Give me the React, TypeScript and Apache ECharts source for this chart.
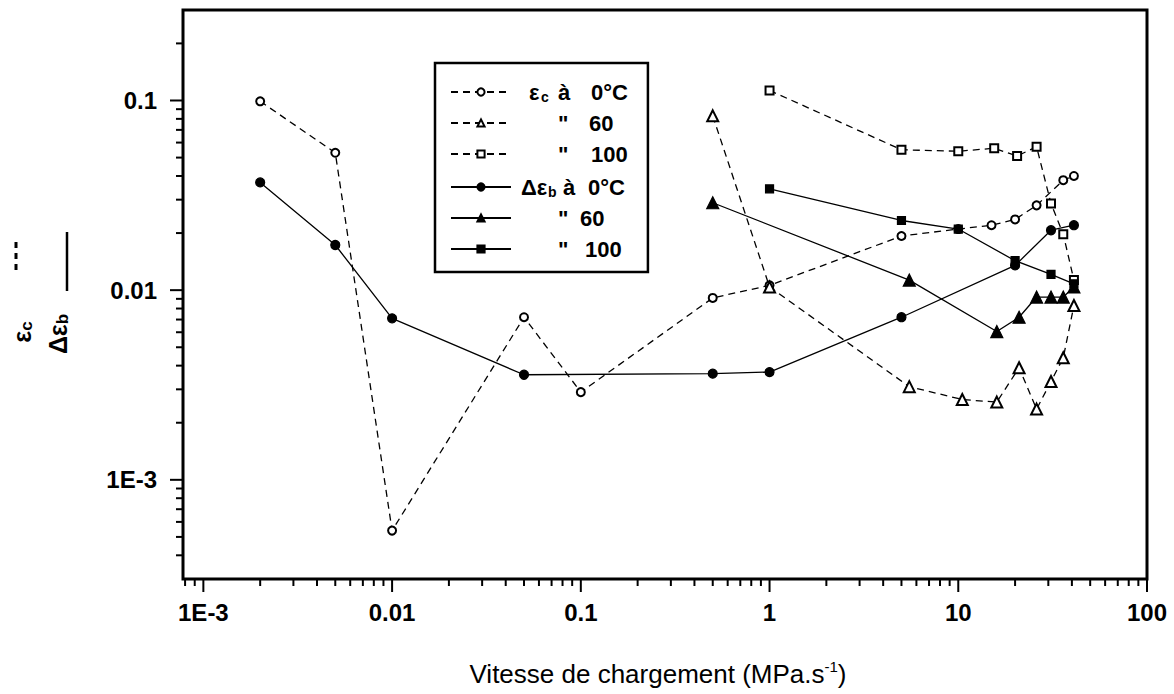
import React, { useEffect, useRef } from "react";
import * as echarts from "echarts";

// ---- axis ranges & tick labels ----
const X_MIN = 7.8e-4;
const X_MAX = 100;
const Y_MIN = 3e-4;
const Y_MAX = 0.3;
const DECADE_LABELS: Record<string, string> = {
  "-3": "1E-3",
  "-2": "0.01",
  "-1": "0.1",
  "0": "1",
  "1": "10",
  "2": "100",
};
const X_MAJOR = [1e-3, 1e-2, 0.1, 1, 10, 100];
const X_MINOR = [
  8e-4, 9e-4,
  2e-3, 3e-3, 4e-3, 5e-3, 6e-3, 7e-3, 8e-3, 9e-3,
  0.02, 0.03, 0.04, 0.05, 0.06, 0.07, 0.08, 0.09,
  0.2, 0.3, 0.4, 0.5, 0.6, 0.7, 0.8, 0.9,
  2, 3, 4, 5, 6, 7, 8, 9,
  20, 30, 40, 50, 60, 70, 80, 90,
];
const Y_MAJOR = [1e-3, 1e-2, 0.1];
const Y_MINOR = [
  4e-4, 5e-4, 6e-4, 7e-4, 8e-4, 9e-4,
  2e-3, 3e-3, 4e-3, 5e-3, 6e-3, 7e-3, 8e-3, 9e-3,
  0.02, 0.03, 0.04, 0.05, 0.06, 0.07, 0.08, 0.09,
  0.2,
];

// ---- series data ----
// εc à 0°C
const EC0_X = [0.002, 0.005, 0.01, 0.05, 0.1, 0.5, 1, 5, 10, 15, 20, 26, 36, 41];
const EC0_Y = [0.099, 0.053, 0.00054, 0.0072, 0.0029, 0.0091, 0.0106, 0.0193, 0.021, 0.022, 0.0236, 0.028, 0.038, 0.04];
// εc à 60°C
const EC60_X = [0.5, 1, 5.5, 10.5, 16, 21, 26, 31, 36, 41];
const EC60_Y = [0.083, 0.0104, 0.0031, 0.00265, 0.00257, 0.0039, 0.00236, 0.0033, 0.0044, 0.0083];
// εc à 100°C
const EC100_X = [1, 5, 10, 15.5, 20.5, 26, 31, 36, 41];
const EC100_Y = [0.113, 0.055, 0.054, 0.056, 0.051, 0.057, 0.0286, 0.0197, 0.0113];
// Δεb à 0°C
const DEB0_X = [0.002, 0.005, 0.01, 0.05, 0.5, 1, 5, 20, 31, 41];
const DEB0_Y = [0.037, 0.0173, 0.0071, 0.00358, 0.00363, 0.0037, 0.0072, 0.0135, 0.0207, 0.022];
// Δεb à 60°C
const DEB60_X = [0.5, 5.5, 16, 21, 26, 31, 36, 41];
const DEB60_Y = [0.0289, 0.0113, 0.00605, 0.0072, 0.0092, 0.0092, 0.0092, 0.0104];
// Δεb à 100°C
const DEB100_X = [1, 5, 10, 20, 31, 41];
const DEB100_Y = [0.0342, 0.0233, 0.021, 0.0143, 0.0121, 0.0108];

const SERIES_NAMES = ["ec0", "ec60", "ec100", "deb0", "deb60", "deb100"];
const LEGEND_LABELS: Record<string, string> = {
  ec0: "{p13|}{g|ε}{s|c}{q|à}{v|0°C}",
  ec60: "{p42|}{q4|\"}{v|60}",
  ec100: "{p42|}{q|\"}{v|100}",
  deb0: "{p5|}{g2|Δε}{s2|b}{q2|à}{v|0°C}",
  deb60: "{p42|}{q3|\"}{v|60}",
  deb100: "{p42|}{q5|\"}{v|100}",
};

const FONT = "'Liberation Sans', Arial, sans-serif";

const zip = (xs: number[], ys: number[]) => xs.map((x, i) => [x, ys[i]]);

const decadeLabel = (v: number) => {
  const lg = Math.log10(v);
  const r = Math.round(lg);
  if (Math.abs(lg - r) > 0.01) return "";
  return DECADE_LABELS[String(r)] ?? "";
};

export default function App() {
  const ref = useRef<HTMLDivElement>(null);

  useEffect(() => {
    if (!ref.current) return;
    const chart = echarts.init(ref.current, undefined, { renderer: "svg" });

    const dashed = { color: "#000", width: 1.3, type: [7, 5] as any };
    const solid = { color: "#000", width: 1.3, type: "solid" as any };

    const mk = (name: string, data: number[][], symbol: string, size: number, line: any) => ({
      name,
      type: "line",
      data,
      symbol,
      symbolSize: size,
      showAllSymbol: true,
      lineStyle: line,
      itemStyle: { color: "#000", borderColor: "#000", borderWidth: 1.2 },
      emphasis: { disabled: true },
      silent: true,
      z: 3,
    });

    const bold = { fontWeight: "bold", fontFamily: FONT };
    const richSub = {
      g: { ...bold, fontSize: 22, width: 12, lineHeight: 24, verticalAlign: "middle" },
      g2: { ...bold, fontSize: 22, width: 27, lineHeight: 24, verticalAlign: "middle" },
      s: { ...bold, fontSize: 14, width: 17, lineHeight: 14, padding: [12, 0, 0, 0], verticalAlign: "bottom" },
      s2: { ...bold, fontSize: 14, width: 15, lineHeight: 14, padding: [12, 0, 0, 0], verticalAlign: "bottom" },
      q: { ...bold, fontSize: 22, width: 33, lineHeight: 24 },
      q2: { ...bold, fontSize: 22, width: 25, lineHeight: 24 },
      q3: { ...bold, fontSize: 22, width: 22, lineHeight: 24 },
      q4: { ...bold, fontSize: 22, width: 31, lineHeight: 24 },
      q5: { ...bold, fontSize: 22, width: 27, lineHeight: 24 },
      v: { ...bold, fontSize: 22, lineHeight: 24 },
      p13: { width: 13, lineHeight: 24 },
      p5: { width: 5, lineHeight: 24 },
      p42: { width: 42, lineHeight: 24 },
    };

    chart.setOption({
      animation: false,
      backgroundColor: "#fff",
      grid: {
        left: 183,
        right: 27,
        top: 10,
        bottom: 106,
        show: true,
        borderColor: "#000",
        borderWidth: 3,
        backgroundColor: "transparent",
        containLabel: false,
      },
      xAxis: {
        type: "log",
        logBase: 10,
        min: X_MIN,
        max: X_MAX,
        axisLine: { show: false },
        axisTick: { show: false },
        splitLine: { show: false },
        minorTick: { show: false },
        axisLabel: {
          margin: 21,
          color: "#000",
          fontFamily: FONT,
          fontWeight: "bold",
          fontSize: 24,
          showMinLabel: false,
          formatter: (v: number) => decadeLabel(v),
        },
        name: "Vitesse de chargement (MPa.s{sup|-1})",
        nameLocation: "middle",
        nameGap: 80,
        nameTextStyle: {
          color: "#000",
          fontFamily: FONT,
          fontSize: 26,
          lineHeight: 30,
          padding: [0, 14, 0, 0],
          rich: {
            sup: { fontSize: 15, fontFamily: FONT, lineHeight: 15, verticalAlign: "top", padding: [0, 0, 13, 0] },
          },
        },
      },
      yAxis: {
        type: "log",
        logBase: 10,
        min: Y_MIN,
        max: Y_MAX,
        axisLine: { show: false },
        axisTick: { show: false },
        splitLine: { show: false },
        axisLabel: {
          margin: 26,
          color: "#000",
          fontFamily: FONT,
          fontWeight: "bold",
          fontSize: 24,
          showMinLabel: false,
          showMaxLabel: false,
          formatter: (v: number) => decadeLabel(v),
        },
      },
      legend: {
        orient: "vertical",
        left: 435,
        top: 63,
        padding: [15, 20, 11, 15],
        itemGap: 7,
        itemWidth: 60,
        itemHeight: 9,
        borderColor: "#000",
        borderWidth: 2.5,
        borderRadius: 0,
        backgroundColor: "#fff",
        selectedMode: false,
        data: SERIES_NAMES,
        formatter: (name: string) => LEGEND_LABELS[name],
        textStyle: {
          color: "#000",
          fontFamily: FONT,
          fontWeight: "bold",
          fontSize: 22,
          lineHeight: 24,
          rich: richSub,
        },
      },
      graphic: [
        {
          type: "line",
          shape: { x1: 16, y1: 242, x2: 16, y2: 274 },
          style: { stroke: "#000", lineWidth: 3, lineDash: [6, 5] },
        },
        {
          type: "line",
          shape: { x1: 67, y1: 232, x2: 67, y2: 291 },
          style: { stroke: "#000", lineWidth: 2.5 },
        },
        {
          type: "text",
          x: 22,
          y: 332,
          rotation: Math.PI / 2,
          style: {
            text: "{a|ε}{b|c}",
            align: "center",
            verticalAlign: "middle",
            fill: "#000",
            rich: {
              a: { fontSize: 25, fontWeight: "bold", fontFamily: FONT, fill: "#000", lineHeight: 26, verticalAlign: "middle" },
              b: { fontSize: 17, fontWeight: "bold", fontFamily: FONT, fill: "#000", lineHeight: 17, padding: [12, 0, 0, 0], verticalAlign: "bottom" },
            },
          },
        },
        {
          type: "text",
          x: 58,
          y: 334,
          rotation: Math.PI / 2,
          style: {
            text: "{a|Δε}{b|b}",
            align: "center",
            verticalAlign: "middle",
            fill: "#000",
            rich: {
              a: { fontSize: 25, fontWeight: "bold", fontFamily: FONT, fill: "#000", lineHeight: 26, verticalAlign: "middle" },
              b: { fontSize: 17, fontWeight: "bold", fontFamily: FONT, fill: "#000", lineHeight: 17, padding: [12, 0, 0, 0], verticalAlign: "bottom" },
            },
          },
        },
      ],
      series: [
        mk("ec0", zip(EC0_X, EC0_Y), "emptyCircle", 8, dashed),
        mk("ec60", zip(EC60_X, EC60_Y), "emptyTriangle", 11, dashed),
        mk("ec100", zip(EC100_X, EC100_Y), "emptyRect", 8, dashed),
        mk("deb0", zip(DEB0_X, DEB0_Y), "circle", 9, solid),
        mk("deb60", zip(DEB60_X, DEB60_Y), "triangle", 12, solid),
        mk("deb100", zip(DEB100_X, DEB100_Y), "rect", 8, solid),
        {
          name: "xticks",
          type: "custom",
          silent: true,
          clip: false,
          z: 5,
          data: [
            ...X_MAJOR.map((v) => [v, Y_MIN, 12]),
            ...X_MINOR.map((v) => [v, Y_MIN, 6]),
          ],
          renderItem: (_p: any, api: any) => {
            const pt = api.coord([api.value(0), api.value(1)]);
            const len = api.value(2);
            return {
              type: "line",
              shape: { x1: pt[0], y1: pt[1] + 1, x2: pt[0], y2: pt[1] + 1 + len },
              style: { stroke: "#000", lineWidth: 2 },
            };
          },
        },
        {
          name: "yticks",
          type: "custom",
          silent: true,
          clip: false,
          z: 5,
          data: [
            ...Y_MAJOR.map((v) => [X_MIN, v, 12]),
            ...Y_MINOR.map((v) => [X_MIN, v, 6]),
          ],
          renderItem: (_p: any, api: any) => {
            const pt = api.coord([api.value(0), api.value(1)]);
            const len = api.value(2);
            return {
              type: "line",
              shape: { x1: pt[0] - 1, y1: pt[1], x2: pt[0] - 1 - len, y2: pt[1] },
              style: { stroke: "#000", lineWidth: 2 },
            };
          },
        },
      ],
    });

    return () => chart.dispose();
  }, []);

  return (
    <div
      ref={ref}
      style={{ position: "absolute", left: 0, top: 0, width: 1174, height: 694, background: "#fff" }}
    />
  );
}
